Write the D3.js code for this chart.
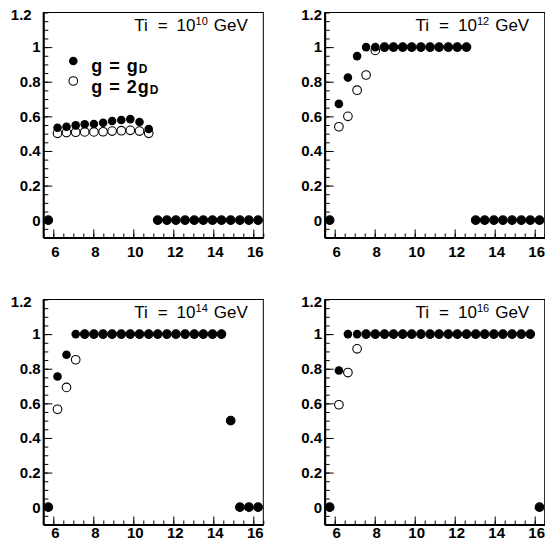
<!DOCTYPE html>
<html><head><meta charset="utf-8">
<script src="https://cdn.jsdelivr.net/npm/d3@7"></script>
<style>
html,body{margin:0;padding:0;background:#fff;}
svg{display:block;}
</style></head>
<body>
<svg id="chart" width="545" height="550"></svg>
<script>
// ---- data ----
const xVals = [5.75, 6.21, 6.66, 7.12, 7.57, 8.03, 8.49, 8.94, 9.40, 9.85, 10.31, 10.77,
               11.22, 11.68, 12.13, 12.59, 13.05, 13.50, 13.96, 14.41, 14.87, 15.33, 15.78, 16.24];
const tiExponents = ["10", "12", "14", "16"];

const filled10 = [0, 0.534, 0.540, 0.548, 0.554, 0.556, 0.563, 0.573, 0.579, 0.584, 0.567, 0.527,
                  0, 0, 0, 0, 0, 0, 0, 0, 0, 0, 0, 0];
const open10   = [0, 0.502, 0.506, 0.508, 0.510, 0.510, 0.511, 0.515, 0.517, 0.519, 0.515, 0.502,
                  0, 0, 0, 0, 0, 0, 0, 0, 0, 0, 0, 0];
const filled12 = [0, 0.672, 0.824, 0.948, 1, 1, 1, 1, 1, 1, 1, 1,
                  1, 1, 1, 1, 0, 0, 0, 0, 0, 0, 0, 0];
const open12   = [0, 0.540, 0.600, 0.751, 0.839, 0.981, 1, 1, 1, 1, 1, 1,
                  1, 1, 1, 1, 0, 0, 0, 0, 0, 0, 0, 0];
const filled14 = [0, 0.755, 0.881, 1, 1, 1, 1, 1, 1, 1, 1, 1,
                  1, 1, 1, 1, 1, 1, 1, 1, 0.5, 0, 0, 0];
const open14   = [0, 0.566, 0.692, 0.852, 1, 1, 1, 1, 1, 1, 1, 1,
                  1, 1, 1, 1, 1, 1, 1, 1, 0.5, 0, 0, 0];
const filled16 = [0, 0.790, 1, 1, 1, 1, 1, 1, 1, 1, 1, 1,
                  1, 1, 1, 1, 1, 1, 1, 1, 1, 1, 1, 0];
const open16   = [0, 0.592, 0.778, 0.915, 1, 1, 1, 1, 1, 1, 1, 1,
                  1, 1, 1, 1, 1, 1, 1, 1, 1, 1, 1, 0];

const xMajorTicks = [6, 8, 10, 12, 14, 16];
const yMajorTicks = [0, 0.2, 0.4, 0.6, 0.8, 1, 1.2];
const legendLabels = [{main: "g = g", sub: "D"}, {main: "g = 2g", sub: "D"}];

const filledSeries = [filled10, filled12, filled14, filled16];
const openSeries = [open10, open12, open14, open16];

// ---- layout ----
const svg = d3.select("#chart");
const W = 220, H = 225;
const colX = [43.3, 324.7];
const rowY = [12.5, 299.5];
const xLabelBase = [19.2, 13.8]; // baseline offset below frame for x labels per row
const R = 4.3;
const font = "'Liberation Sans', Arial, Helvetica, sans-serif";

const xMinor = d3.range(11, 34).map(d => d / 2);        // 5.5 .. 16.5 step 0.5
const yMinor = d3.range(-2, 25).map(d => d / 20);       // -0.1 .. 1.2 step 0.05

tiExponents.forEach((exp, p) => {
  const col = p % 2, row = Math.floor(p / 2);
  const g = svg.append("g").attr("transform", `translate(${colX[col]},${rowY[row]})`);
  const x = d3.scaleLinear().domain([5.5, 16.5]).range([0, W]);
  const y = d3.scaleLinear().domain([-0.1, 1.2]).range([H, 0]);

  // frame
  g.append("rect").attr("x", 0).attr("y", 0).attr("width", W).attr("height", H)
    .attr("fill", "none").attr("stroke", "#000").attr("stroke-width", 1);

  // minor ticks
  const yMinAx = d3.axisLeft(y).tickValues(yMinor).tickSize(-5).tickSizeOuter(0).tickFormat("");
  g.append("g").call(yMinAx).call(s => s.select(".domain").remove());
  const xMinAx = d3.axisBottom(x).tickValues(xMinor).tickSize(-4).tickSizeOuter(0).tickFormat("");
  g.append("g").attr("transform", `translate(0,${H})`).call(xMinAx).call(s => s.select(".domain").remove());

  // major y axis
  const yAx = d3.axisLeft(y).tickValues(yMajorTicks).tickSize(-9).tickSizeOuter(0)
    .tickPadding(2.6).tickFormat(d3.format("~g"));
  const ya = g.append("g").call(yAx);
  ya.select(".domain").attr("stroke-width", 2);
  ya.selectAll("text").attr("font-family", font).attr("font-weight", "bold")
    .attr("font-size", 15).attr("fill", "#000");
  ya.selectAll(".tick").filter(d => d === 1.2).select("text")
    .attr("dy", "0.45em").attr("dx", col === 0 ? -9 : 0);
  ya.selectAll(".tick").filter(d => d === 1.2).select("line").remove();

  // major x axis
  const xAx = d3.axisBottom(x).tickValues(xMajorTicks).tickSize(-8).tickSizeOuter(0)
    .tickFormat(d3.format("d"));
  const xa = g.append("g").attr("transform", `translate(0,${H})`).call(xAx);
  xa.select(".domain").attr("stroke-width", 2);
  xa.selectAll("text").attr("font-family", font).attr("font-weight", "bold")
    .attr("font-size", 15).attr("fill", "#000")
    .attr("y", xLabelBase[row]).attr("dy", 0).attr("dx", 1.5);

  // data: open first, filled on top
  const openD = xVals.map((xv, i) => ({x: xv, y: openSeries[p][i]}));
  const fillD = xVals.map((xv, i) => ({x: xv, y: filledSeries[p][i]}));
  const marks = g.append("g");
  marks.selectAll("circle.open").data(openD).join("circle").attr("class", "open")
    .attr("cx", d => x(d.x)).attr("cy", d => y(d.y)).attr("r", R)
    .attr("fill", "#fff").attr("stroke", "#000").attr("stroke-width", 1.1);
  marks.selectAll("circle.filled").data(fillD).join("circle").attr("class", "filled")
    .attr("cx", d => x(d.x)).attr("cy", d => y(d.y)).attr("r", R).attr("fill", "#000");

  // title
  const t = g.append("text").attr("x", W - 15.5).attr("y", 18.4)
    .attr("text-anchor", "end").attr("font-family", font).attr("font-size", 17).attr("fill", "#000");
  t.append("tspan").text("Ti");
  t.append("tspan").attr("dx", 10).text("=");
  t.append("tspan").attr("dx", 9).text("10");
  t.append("tspan").attr("dy", -5.5).attr("font-size", 11).text(exp);
  t.append("tspan").attr("dy", 5.5).attr("dx", 6).text("GeV");

  // legend (first panel only)
  if (p === 0) {
    legendLabels.forEach((lab, i) => {
      const ly = 48.5 + i * 20;
      g.append("circle").attr("cx", 30).attr("cy", ly).attr("r", R)
        .attr("fill", i === 0 ? "#000" : "#fff").attr("stroke", "#000").attr("stroke-width", i === 0 ? 0 : 1.1);
      const lt = g.append("text").attr("x", 48).attr("y", ly + 10.7 + i * 0.8)
        .attr("font-family", font).attr("font-weight", "bold").attr("font-size", 18)
        .attr("letter-spacing", 1).attr("fill", "#000");
      lt.append("tspan").text(lab.main);
      lt.append("tspan").attr("dy", 1.5).attr("font-size", 12).attr("letter-spacing", 0).text(lab.sub);
    });
  }
});
</script>
</body></html>
